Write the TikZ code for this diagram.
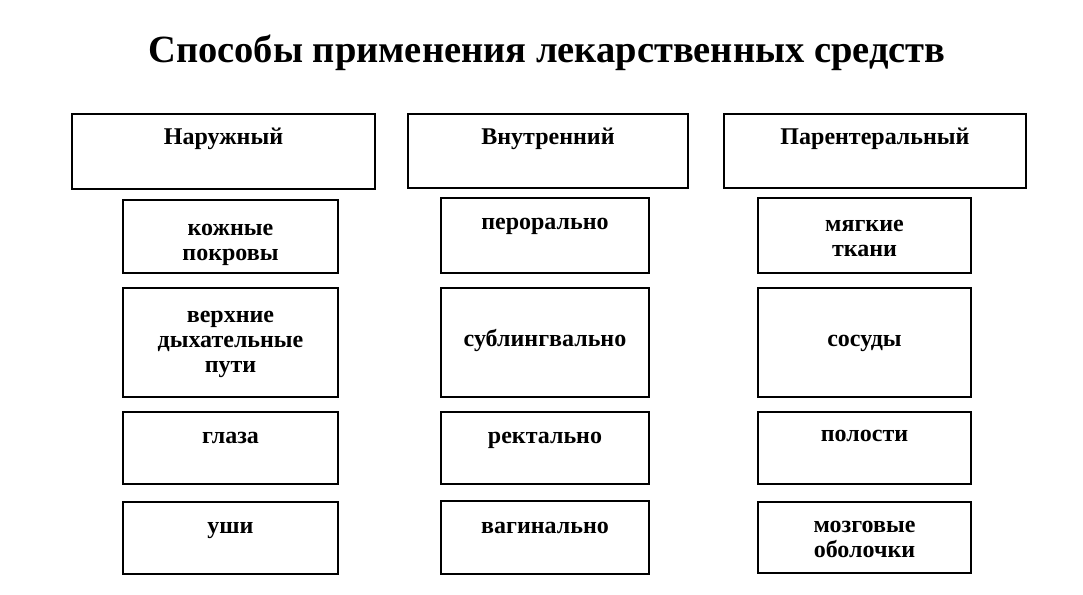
\documentclass[tikz,border=0pt]{standalone}
\usepackage{fontspec}
\setmainfont{Liberation Serif}
\usetikzlibrary{positioning}

\tikzset{
  cell/.style={draw, line width=2.8pt, inner sep=0pt},
  celltext/.style={font=\bfseries\fontsize{24}{25}\selectfont, align=center, inner sep=0pt,
    execute at begin node=\strut, execute at end node=\strut},
}

\begin{document}
\begin{tikzpicture}[x=1pt,y=-1pt]
    \useasboundingbox (0,0) rectangle (1083,594);

    % Title
    \node[font=\bfseries\fontsize{38.5}{42}\selectfont] (title) at (547,53) {Способы применения лекарственных средств};

    % Boxes: name / centre x / centre y / width / height / text y / text
    \foreach \nm/\cx/\cy/\bw/\bh/\ty/\txt in {
      nar/223.5/151.5/303/75/139/Наружный,
      vnu/548/151/280/74/139/Внутренний,
      par/875/151/302/74/139/Парентеральный,
      kozh/230.5/236.5/215/73/246.5/{кожные\\покровы},
      verh/230.5/342.5/215/109/346/{верхние\\дыхательные\\пути},
      glaz/230.5/448/215/72/438/глаза,
      ushi/230.5/538/215/72/528/уши,
      pero/545/235.5/208/75/224/перорально,
      subl/545/342.5/208/109/341/сублингвально,
      rekt/545/448/208/72/438/ректально,
      vagi/545/537.5/208/73/528/вагинально,
      myag/864.5/235.5/213/75/242/{мягкие\\ткани},
      sosu/864.5/342.5/213/109/341/сосуды,
      polo/864.5/448/213/72/436/полости,
      mozg/864.5/537.5/213/71/543/{мозговые\\оболочки}} {
      % Draw box and its text
      \node[cell, minimum width=\bw pt, minimum height=\bh pt] (\nm) at (\cx,\cy) {};
      \node[celltext] (\nm-text) at (\cx,\ty) {\txt};
    }

\end{tikzpicture}
\end{document}
